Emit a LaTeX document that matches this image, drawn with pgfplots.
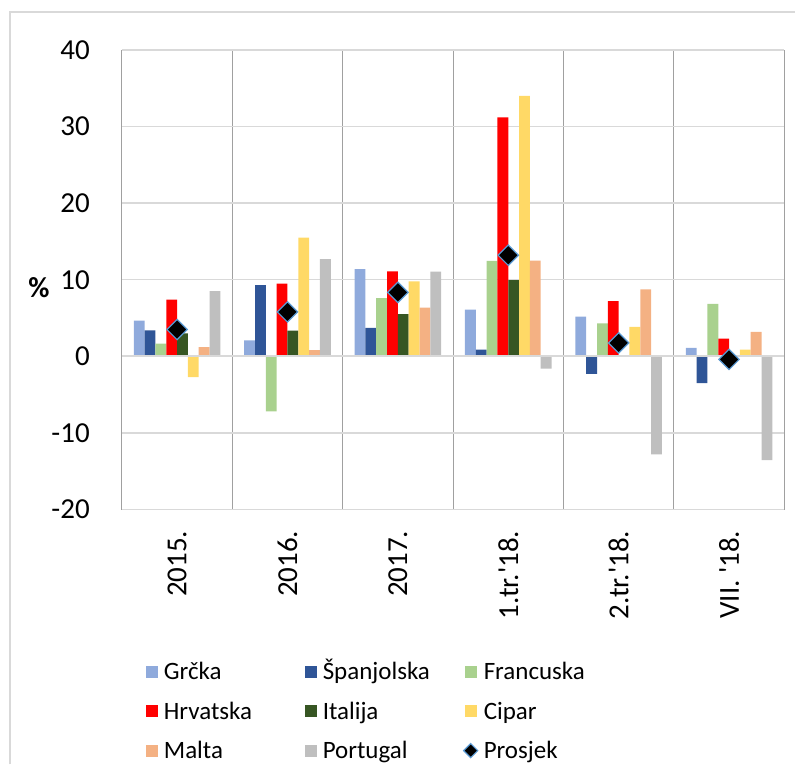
\documentclass[border=0pt]{standalone}
\usepackage{fontspec}
\setmainfont{Carlito}
\usepackage{pgfplots}
\pgfplotsset{compat=1.18}
\definecolor{cGr}{HTML}{8FAADC}
\definecolor{cEs}{HTML}{2F5597}
\definecolor{cFr}{HTML}{A9D18E}
\definecolor{cHr}{HTML}{FF0000}
\definecolor{cIt}{HTML}{375623}
\definecolor{cCy}{HTML}{FFD966}
\definecolor{cMt}{HTML}{F4B183}
\definecolor{cPt}{HTML}{BFBFBF}
\definecolor{cEdge}{HTML}{5B9BD5}
\definecolor{gridc}{HTML}{D9D9D9}
\definecolor{sepc}{HTML}{A0A0A0}
\pgfplotsset{
  sqlegend/.style={legend image code/.code={\fill[##1] (0pt,2pt) rectangle (12pt,14pt);}},
  diamlegend/.style={legend image code/.code={\draw[mark repeat=2,mark phase=2,##1] plot coordinates {(0pt,8pt) (6pt,8pt) (12pt,8pt)};}},
}
\begin{document}
\begin{tikzpicture}
\begin{axis}[
  scale only axis, width=663pt, height=460pt,
  xmin=-0.5, xmax=5.5, ymin=-20, ymax=40,
  axis line style={draw=none},
  xtick={0,1,2,3,4,5},
  xticklabels={2015.,2016.,2017.,1.tr.\textquotesingle 18.,2.tr.\textquotesingle 18.,VII. \textquotesingle 18.},
  ytick={-20,-10,0,10,20,30,40},
  yticklabels={-20,-10,0,10,20,30,40},
  minor xtick={-0.5,0.5,1.5,2.5,3.5,4.5,5.5},
  xminorgrids, ymajorgrids,
  major y grid style={gridc, line width=1.3pt},
  minor x grid style={sepc, line width=0.9pt},
  major tick length=0pt, minor tick length=0pt,
  tick style={draw=none},
  tick label style={font=\fontsize{29}{33}\selectfont, inner sep=0pt},
  xticklabel style={rotate=90, anchor=east},
  yticklabel style={anchor=east},
  xticklabel shift=21pt,
  yticklabel shift=32pt,
  legend columns=3,
  legend style={draw=none, fill=none, inner sep=0pt,
    font=\fontsize{25}{28}\selectfont,
    at={(axis description cs:0.036,-0.326)}, anchor=north west,
    nodes={inner sep=0pt, anchor=base west},
    row sep=20.5pt,
    /tikz/every odd column/.append style={column sep=6pt}},
  sqlegend,
]
\coordinate (ll) at (rel axis cs:0,0);
\addplot[ybar, bar width=0.098, bar shift=-0.343, fill=cGr, draw=none] coordinates {(0,4.65) (1,2.1) (2,11.4) (3,6.1) (4,5.2) (5,1.1)};
\addlegendentry{\makebox[141pt][l]{Grčka}}
\addplot[ybar, bar width=0.098, bar shift=-0.245, fill=cEs, draw=none] coordinates {(0,3.4) (1,9.3) (2,3.7) (3,0.87) (4,-2.3) (5,-3.5)};
\addlegendentry{\makebox[141pt][l]{Španjolska}}
\addplot[ybar, bar width=0.098, bar shift=-0.147, fill=cFr, draw=none] coordinates {(0,1.65) (1,-7.2) (2,7.6) (3,12.45) (4,4.3) (5,6.85)};
\addlegendentry{\makebox[141pt][l]{Francuska}}
\addplot[ybar, bar width=0.098, bar shift=-0.049, fill=cHr, draw=none] coordinates {(0,7.4) (1,9.5) (2,11.1) (3,31.2) (4,7.2) (5,2.3)};
\addlegendentry{\makebox[141pt][l]{Hrvatska}}
\addplot[ybar, bar width=0.098, bar shift=0.049, fill=cIt, draw=none] coordinates {(0,3.0) (1,3.35) (2,5.5) (3,9.95)};
\addlegendentry{\makebox[141pt][l]{Italija}}
\addplot[ybar, bar width=0.098, bar shift=0.147, fill=cCy, draw=none] coordinates {(0,-2.7) (1,15.5) (2,9.8) (3,34.0) (4,3.85) (5,0.87)};
\addlegendentry{\makebox[141pt][l]{Cipar}}
\addplot[ybar, bar width=0.098, bar shift=0.245, fill=cMt, draw=none] coordinates {(0,1.2) (1,0.8) (2,6.35) (3,12.5) (4,8.75) (5,3.2)};
\addlegendentry{\makebox[141pt][l]{Malta}}
\addplot[ybar, bar width=0.098, bar shift=0.343, fill=cPt, draw=none] coordinates {(0,8.5) (1,12.7) (2,11.05) (3,-1.6) (4,-12.8) (5,-13.55)};
\addlegendentry{\makebox[141pt][l]{Portugal}}
\draw[gridc, line width=2pt] (axis cs:-0.5,0) -- (axis cs:5.5,0);
\addplot[only marks, mark=square*, mark size=7.2pt,
  mark options={fill=black, draw=cEdge, line width=1.2pt, rotate=45},
  diamlegend, legend image post style={mark size=5pt}]
  coordinates {(0,3.5) (1,5.8) (2,8.35) (3,13.2) (4,1.75) (5,-0.4)};
\addlegendentry{\makebox[141pt][l]{Prosjek}}
\end{axis}
\node[font=\fontsize{29}{32}\selectfont\bfseries] at ([xshift=-83pt,yshift=222pt]ll) {\%};
\draw[gridc, line width=1.5pt] (ll) ++(-112pt,-255pt) -- ++(0pt,753pt) -- ++(786pt,0pt);
\path (ll) ++(-122pt,-255pt) rectangle ++(796pt,765pt);
\end{tikzpicture}
\end{document}
